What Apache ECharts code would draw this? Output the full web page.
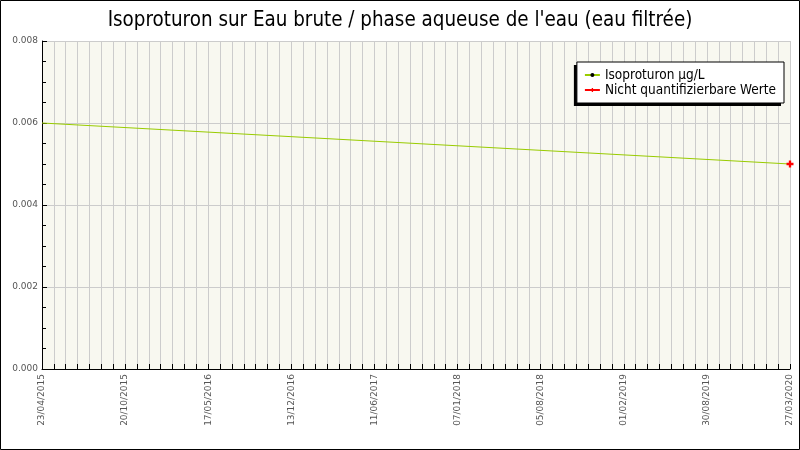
<!DOCTYPE html>
<html>
<head>
<meta charset="utf-8">
<script src="https://cdn.jsdelivr.net/npm/echarts@6/dist/echarts.min.js"></script>
<style>html,body{margin:0;padding:0;background:#fff}#c{width:800px;height:450px}</style>
</head>
<body>
<div id="c"></div>
<script>
// Tick labels shown every 7 grid steps along the x axis (64 grid positions: 0..63)
const tickLabels = ['23/04/2015','20/10/2015','17/05/2016','13/12/2016','11/06/2017','07/01/2018','05/08/2018','01/02/2019','30/08/2019','27/03/2020'];
const gridSteps = 63;
// Measured series: position index on the x axis, and concentration (µg/L)
const isoPos = [0, 63];
const isoValues = [0.006, 0.005];
// Non-quantifiable values
const nqPos = [63];
const nqValues = [0.005];
const seriesNames = ['Isoproturon µg/L', 'Nicht quantifizierbare Werte'];

const chart = echarts.init(document.getElementById('c'));
const cond = 'DejaVu Sans Condensed, DejaVu Sans, sans-serif';
const plain = 'DejaVu Sans, sans-serif';
const legendBase = {
  orient: 'vertical', right: 16, top: 62,
  padding: [6, 8, 6, 7], itemGap: 1, itemWidth: 15, itemHeight: 5,
  data: seriesNames
};
chart.setOption({
  animation: false,
  backgroundColor: '#fff',
  title: {
    text: "Isoproturon sur Eau brute / phase aqueuse de l'eau (eau filtrée)",
    left: 'center', top: 6,
    textStyle: { fontFamily: cond, fontSize: 20.4, fontWeight: 'normal', color: '#000' }
  },
  grid: { left: 42, right: 10, top: 41, bottom: 81, show: true, backgroundColor: '#f8f8f0', borderWidth: 0, containLabel: false, outerBoundsMode: 'none' },
  legend: [
    Object.assign({}, legendBase, {
      backgroundColor: '#fff', borderWidth: 0,
      shadowColor: '#000', shadowBlur: 0, shadowOffsetX: -3, shadowOffsetY: 3,
      textStyle: { fontFamily: cond, fontSize: 13.5, color: '#000' }
    }),
    Object.assign({}, legendBase, {
      backgroundColor: 'transparent', borderColor: '#000', borderWidth: 1,
      itemStyle: { opacity: 0 }, lineStyle: { opacity: 0 },
      textStyle: { fontFamily: cond, fontSize: 13.5, color: 'rgba(0,0,0,0)' }
    })
  ],
  xAxis: {
    type: 'value', min: 0, max: gridSteps, interval: 1,
    axisLine: { show: true, lineStyle: { color: '#000' } },
    axisTick: { show: true, inside: true, length: 5, lineStyle: { color: '#000' } },
    splitLine: { show: true, lineStyle: { color: '#cccccc' } },
    axisLabel: {
      rotate: 90, fontSize: 9, color: '#555', fontFamily: plain, margin: 5,
      formatter: v => (v % 7 === 0 ? tickLabels[v / 7] : '')
    }
  },
  yAxis: {
    type: 'value', min: 0, max: 0.008, interval: 0.002,
    name: 'Isoproturon µg/L', nameLocation: 'middle', nameGap: 28,
    nameTextStyle: { fontFamily: cond, fontSize: 13.5, color: '#000' },
    axisLine: { show: true, lineStyle: { color: '#000' } },
    axisTick: { show: true, inside: true, length: 5, lineStyle: { color: '#000' } },
    minorTick: { show: true, splitNumber: 4, length: 4, lineStyle: { color: '#000' } },
    splitLine: { show: true, lineStyle: { color: '#cccccc' } },
    axisLabel: { fontSize: 9, color: '#555', fontFamily: plain, margin: 4, formatter: v => v.toFixed(3) }
  },
  series: [
    {
      name: seriesNames[0], type: 'line',
      data: isoPos.map((p, i) => [p, isoValues[i]]),
      symbol: 'circle', symbolSize: 2, showSymbol: false,
      lineStyle: { color: '#99cc00', width: 1 },
      itemStyle: { color: '#000' }
    },
    {
      name: seriesNames[1], type: 'line',
      data: nqPos.map((p, i) => [p, nqValues[i]]),
      symbol: 'path://M2,0H4V2H6V4H4V6H2V4H0V2H2Z', symbolSize: 7,
      lineStyle: { color: '#ff0000', width: 1 },
      itemStyle: { color: '#ff0000' }
    }
  ],
  graphic: [{
    type: 'rect', silent: true, z: 100,
    shape: { x: 0.5, y: 0.5, width: 799, height: 449 },
    style: { fill: 'none', stroke: '#000', lineWidth: 1 }
  }]
});
</script>
</body>
</html>
